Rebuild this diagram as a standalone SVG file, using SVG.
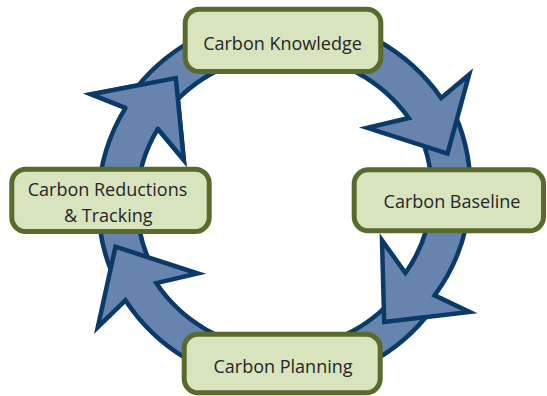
<svg xmlns="http://www.w3.org/2000/svg" width="547" height="396" viewBox="0 0 547 396">
<style>
.arr{fill:#6784ae;stroke:#0b3a68;stroke-width:4.5;stroke-linejoin:miter;stroke-miterlimit:10}
.hf{fill:#6784ae;stroke:none}
.hs{fill:none;stroke:#0b3a68;stroke-width:4.5;stroke-linejoin:miter;stroke-miterlimit:10;stroke-linecap:round}
.box{fill:#d7e4bd;stroke:#5a6a2c;stroke-width:5}
.t{font-family:"Open Sans","Liberation Sans",sans-serif;font-size:18px;fill:#262626;text-anchor:middle}
</style>
<rect width="547" height="396" fill="#ffffff"/>
<g id="connectors">
<path id="arrow4" class="arr" d="M 119.3,288.4 A 182 182 0 0 1 125.5,107.9 L 91.2,94.3 L 175.8,78.1 L 183.8,160 L 157.8,128.8 A 143 143 0 0 0 153.7,270.1 Z"/>
<path id="arrow3" class="arr" d="M 432.3,308.9 A 187 187 0 0 1 125.4,300.3 L 97.8,327.2 L 115.5,246.7 L 197.8,273.5 L 156.2,283.1 A 150 150 0 0 0 402.4,287.2 Z"/>
<path id="arrow2" class="arr" d="M 450.3,104.8 A 181.5 181.5 0 0 1 434.6,295.4 L 469.5,311.9 L 384.2,321.9 L 382,240.2 L 405.4,273 A 141 141 0 0 0 414.5,123.8 Z"/>
<path id="arrow1" class="arr" d="M 128.9,97.7 A 190.5 190.5 0 0 1 441.2,98 L 469.1,74.7 L 447.5,153.6 L 367.3,127.8 L 408.8,118 A 152 152 0 0 0 160.5,119.8 Z"/>
<path class="hf" d="M 125.5,107.9 L 91.2,94.3 L 175.8,78.1 L 183.8,160 L 157.8,128.8 Z"/>
<path class="hs" d="M 125.5,107.9 L 91.2,94.3 L 175.8,78.1 L 183.8,160 L 157.8,128.8"/>
</g>
<g id="node-knowledge">
<rect class="box" x="185.2" y="9.2" width="195.6" height="62.3" rx="14"/>
<text class="t" x="282.5" y="50">Carbon Knowledge</text>
</g>
<g id="node-baseline">
<rect class="box" x="354.2" y="169.8" width="189.3" height="61" rx="14"/>
<text class="t" x="452" y="208.3">Carbon Baseline</text>
</g>
<g id="node-planning">
<rect class="box" x="184.2" y="334.2" width="196" height="58.6" rx="14"/>
<text class="t" x="283" y="373">Carbon Planning</text>
</g>
<g id="node-reductions">
<rect class="box" x="11.8" y="169.2" width="197.4" height="62.3" rx="14"/>
<text class="t" x="107.5" y="196">Carbon Reductions</text>
<text class="t" x="108.3" y="221.7">&amp; Tracking</text>
</g>
</svg>
